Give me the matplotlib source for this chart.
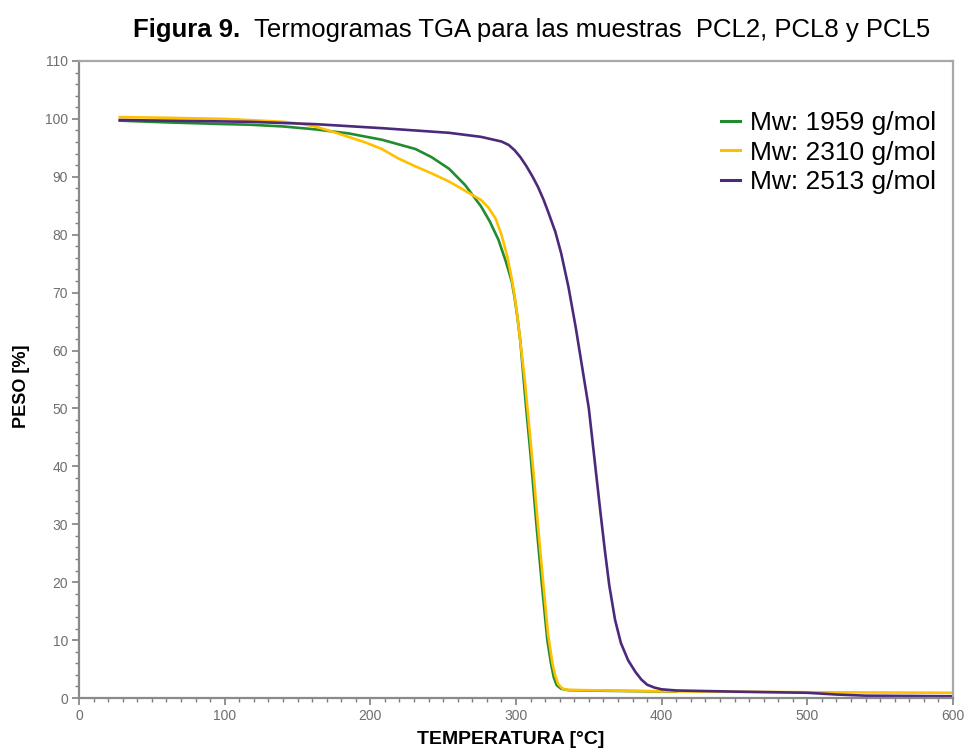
import matplotlib
matplotlib.use("Agg")
import matplotlib.pyplot as plt
from matplotlib.ticker import MultipleLocator

plt.rcParams['font.family'] = ['Liberation Sans', 'DejaVu Sans']

# TGA curves (temperature in C, weight in %)
temp_1959 = [28, 60, 100, 117, 140, 162, 185, 208, 231, 242, 254, 265, 276, 282, 288,
             293, 297, 299, 301, 303, 307, 310, 314, 318, 321.5, 324, 326, 328, 331,
             336, 360, 410]
peso_1959 = [99.7, 99.4, 99.1, 99.0, 98.7, 98.2, 97.5, 96.4, 94.8, 93.4, 91.4, 88.6,
             84.9, 82.3, 79.1, 75.4, 72.0, 69.2, 65.7, 61.5, 50.0, 42.0, 30.0, 19.0,
             10.0, 6.0, 3.5, 2.2, 1.6, 1.35, 1.25, 1.1]

temp_2310 = [28, 60, 100, 117, 140, 151, 162, 174, 185, 197, 208, 219, 231, 242, 254,
             265, 276, 281, 286, 290, 294, 297, 299, 301, 303, 306, 309, 312, 315, 319,
             322, 325, 327, 329, 332, 336, 400, 500, 600]
peso_2310 = [100.3, 100.2, 100.0, 99.8, 99.5, 99.2, 98.7, 97.8, 96.9, 95.9, 94.8, 93.2,
             91.8, 90.6, 89.2, 87.6, 86.0, 84.7, 82.8, 80.0, 76.3, 72.5, 69.5, 65.8,
             61.5, 55.0, 47.0, 39.0, 30.0, 19.0, 11.0, 6.0, 3.8, 2.4, 1.6, 1.4, 1.15,
             1.0, 0.9]

temp_2513 = [28, 60, 117, 162, 208, 254, 276, 290, 295, 299, 303, 307, 311, 315, 319,
             322, 327, 331, 336, 341, 345.5, 350, 354, 358, 361, 364, 368, 372, 377, 382,
             386, 390, 395, 400, 410, 450, 500, 520, 540, 600]
peso_2513 = [99.8, 99.7, 99.5, 99.1, 98.4, 97.6, 96.9, 96.1, 95.5, 94.6, 93.4, 91.9,
             90.2, 88.3, 86.0, 84.0, 80.5, 76.8, 71.0, 64.0, 57.0, 50.0, 41.0, 32.0,
             25.5, 19.5, 13.5, 9.5, 6.5, 4.5, 3.2, 2.3, 1.8, 1.5, 1.3, 1.1, 0.9, 0.6,
             0.4, 0.3]

etiquetas = ["Mw: 1959 g/mol", "Mw: 2310 g/mol", "Mw: 2513 g/mol"]
colores = ["#238b2f", "#ffc000", "#4b2a7c"]

fig = plt.figure(figsize=(9.72, 7.49), dpi=100)
ax = fig.add_axes([79 / 972, 1 - 698 / 749, 874 / 972, 637 / 749])

for t, p, lab, c in zip([temp_1959, temp_2310, temp_2513],
                        [peso_1959, peso_2310, peso_2513], etiquetas, colores):
    ax.plot(t, p, color=c, lw=1.9, label=lab)

ax.set_xlim(0, 600)
ax.set_ylim(0, 110)
ax.xaxis.set_major_locator(MultipleLocator(100))
ax.xaxis.set_minor_locator(MultipleLocator(10))
ax.yaxis.set_major_locator(MultipleLocator(10))
ax.yaxis.set_minor_locator(MultipleLocator(2))
ax.tick_params(which='major', direction='out', length=5, width=1.2, color='#808080',
               labelcolor='#6e6e6e', labelsize=10, pad=3)
ax.tick_params(which='minor', direction='out', length=3, width=1, color='#808080')
for s in ['left', 'bottom']:
    ax.spines[s].set_color('#8a8a8a')
    ax.spines[s].set_linewidth(1.6)
for s in ['top', 'right']:
    ax.spines[s].set_color('#a8a8a8')
    ax.spines[s].set_linewidth(1.6)

leg = ax.legend(loc='upper right', bbox_to_anchor=(0.981, 0.921), frameon=False,
                fontsize=19, handlelength=0.7, handletextpad=0.4,
                labelspacing=0.2, borderpad=0, borderaxespad=0)
for line in leg.get_lines():
    line.set_linewidth(2.2)

# title: bold part followed by regular part
base_y = 1 - 37 / 749
t1 = fig.text(133 / 972, base_y, "Figura 9.", fontsize=18.5, fontweight='bold',
              ha='left', va='baseline')
fig.canvas.draw()
bb = t1.get_window_extent()
fig.text((bb.x1 + 14) / 972, base_y,
         "Termogramas TGA para las muestras  PCL2, PCL8 y PCL5",
         fontsize=18.5, ha='left', va='baseline')

fig.text(22 / 972, 1 - 386 / 749, "PESO [%]", fontsize=13, fontweight='bold',
         rotation=90, ha='center', va='center')
fig.text(511 / 972, 1 - 739 / 749, "TEMPERATURA [°C]", fontsize=14, fontweight='bold',
         ha='center', va='center')

fig.savefig("out.png", dpi=100, facecolor='white')
